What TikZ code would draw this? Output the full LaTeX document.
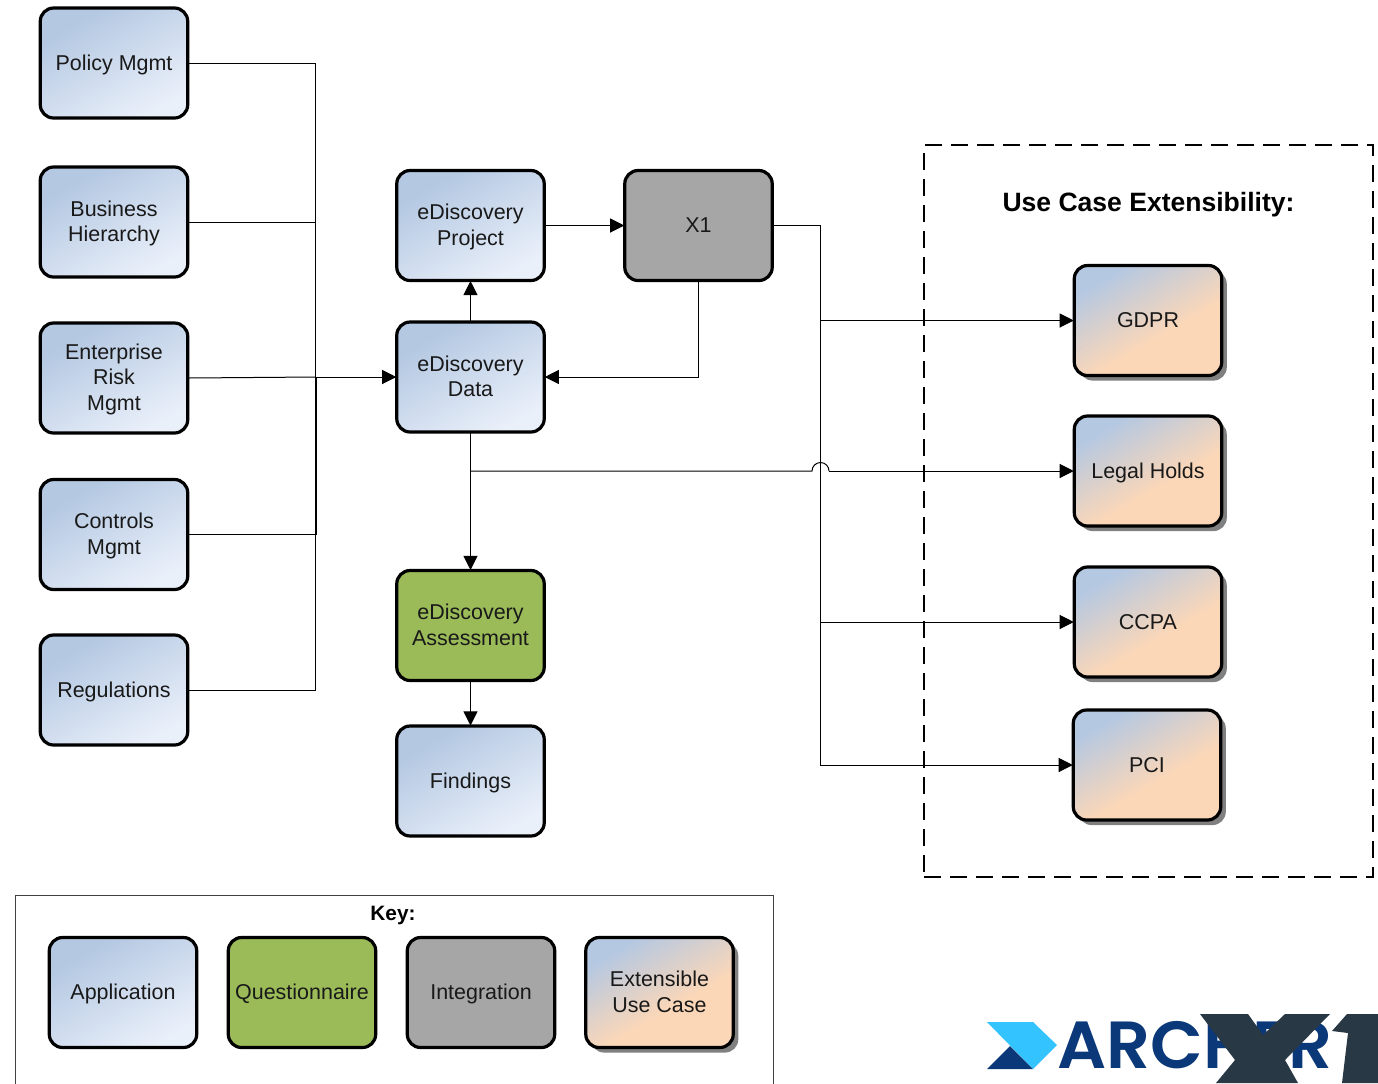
\documentclass[tikz,border=0pt]{standalone}
\usepackage{fontspec}
\setmainfont{Liberation Sans}
\newfontfamily\logofont{Poppins SemiBold}
\usetikzlibrary{arrows.meta,shadows,calc}
\definecolor{bluetl}{HTML}{B4C8E2}
\definecolor{bluebr}{HTML}{EAF0FA}
\definecolor{peach}{HTML}{FBD7B8}
\definecolor{qgreen}{HTML}{9BBB59}
\definecolor{intgray}{HTML}{A6A6A6}
\definecolor{shadowgray}{HTML}{808080}
\definecolor{logolight}{HTML}{33C4FF}
\definecolor{logonavy}{HTML}{0B3879}
\definecolor{logodark}{HTML}{283845}
\pgfdeclareverticalshading{bluegrad}{100bp}{color(0bp)=(bluebr);color(25bp)=(bluebr);color(72bp)=(bluetl);color(100bp)=(bluetl)}
\pgfdeclareverticalshading{peachgrad}{100bp}{color(0bp)=(peach);color(42bp)=(peach);color(74bp)=(bluetl);color(100bp)=(bluetl)}
\newcommand{\lblstrut}{\rule[-4.35pt]{0pt}{19.9pt}}
\newcommand{\lblstrutb}{\rule[-4.35pt]{0pt}{18.9pt}}
\newcommand{\lineup}{\rule{0pt}{14.6pt}}
\tikzset{
  x=0.75pt,y=-0.75pt,
  boxbase/.style={draw=black,line width=2.4pt,rounded corners=10pt,minimum width=110.6pt,minimum height=82.5pt,inner sep=0pt,outer sep=0.4pt,align=center,font=\fontsize{16.1}{19}\selectfont,text=black!90,execute at begin node=\lblstrut,execute at end node=\lblstrutb},
  appbox/.style={boxbase,shading=bluegrad,shading angle=30},
  qbox/.style={boxbase,fill=qgreen},
  intbox/.style={boxbase,fill=intgray},
  extbox/.style={boxbase,shading=peachgrad,shading angle=30,general shadow={shadow xshift=3.8pt,shadow yshift=-3.8pt,fill=shadowgray}},
  conn/.style={draw=black,line width=0.75pt},
  arr/.style={conn,-{Triangle[length=10.5pt,width=10.5pt]}},
}
\begin{document}
\begin{tikzpicture}
\useasboundingbox (0,0) rectangle (1378,1083);
% left column
\node[appbox] (policy) at (114,63) {Policy Mgmt};
\node[appbox] (business) at (114,222) {\lineup Business\\Hierarchy};
\node[appbox] (risk) at (114,378) {\lineup Enterprise\\Risk\\Mgmt};
\node[appbox] (controls) at (114,534.5) {\lineup Controls\\Mgmt};
\node[appbox] (regs) at (114,690) {Regulations};
% middle
\node[appbox] (project) at (470.5,225.5) {\lineup eDiscovery\\Project};
\node[appbox] (data) at (470.5,377) {\lineup eDiscovery\\Data};
\node[qbox] (assess) at (470.5,625.5) {\lineup eDiscovery\\Assessment};
\node[appbox] (findings) at (470.5,781) {Findings};
\node[intbox] (xone) at (698.5,225.5) {X1};
% dashed frame
\node[draw=black,line width=1.2pt,dash pattern=on 13pt off 6.5pt,minimum width=336.75pt,minimum height=549pt,inner sep=0pt,outer sep=0pt] (extframe) at (1148.5,511) {};
\node[font=\bfseries\fontsize{19.9}{24}\selectfont] (exttitle) at (1148.5,205) {Use Case Extensibility:};
% right
\node[extbox] (gdpr) at (1148,320.5) {GDPR};
\node[extbox] (holds) at (1148,471) {Legal Holds};
\node[extbox] (ccpa) at (1148,622) {CCPA};
\node[extbox] (pci) at (1147,765) {PCI};
% connectors
\coordinate (busa) at (315.8,377);
\coordinate (busb) at (316.8,377.6);
\draw[conn] (policy.east |- 0,63) -| (busa);
\draw[conn] (business.east) -- (315.8,222);
\draw[conn] (controls.east) -| (busb);
\draw[conn] (regs.east) -| (busa);
\draw[conn] (risk.east) -- (busa);
\draw[conn] (busb) -- (data.west |- busb);
\draw[arr] (busa) -- (data.west);
\draw[arr] (data.north) -- (project.south);
\draw[arr] (project.east) -- (xone.west);
\draw[arr] (xone.south) |- (data.east);
\coordinate (hop) at (820.3,225.5);
\draw[conn] (xone.east) -- (hop) -- (820.3,765);
\draw[arr] (820.3,320.5) -- (gdpr.west);
\draw[arr] (820.3,622) -- (ccpa.west);
\draw[arr] (820.3,765) -- (pci.west);
\draw[arr] (data.south) -- (assess.north);
\draw[arr] (assess.south) -- (findings.north);
\coordinate (split) at (470.5,471);
\draw[conn] (split) -- (812,471) arc[start angle=180,end angle=360,radius=8.5];
\draw[arr] (829,471) -- (holds.west);
% key
\draw[draw=black!75,line width=0.75pt] (15,1090) -- (15,895) -- (773,895) -- (773,1090);
\node[font=\bfseries\fontsize{15.6}{18}\selectfont] (keytitle) at (393,915) {Key:};
\node[appbox] (k1) at (123,992.5) {Application};
\node[qbox] (k2) at (302,992.5) {Questionnaire};
\node[intbox] (k3) at (481,992.5) {Integration};
\node[extbox] (k4) at (659.5,992.5) {\lineup Extensible\\Use Case};
% logo
\fill[logolight] (987,1022) -- (1033,1022) -- (1057,1045) -- (1033,1069) -- (1010,1045.5) -- cycle;
\fill[logonavy] (987,1069) -- (1010,1046) -- (1033,1069) -- cycle;
\node[anchor=west,inner sep=0pt,text=logonavy,xscale=1.03,font=\logofont\fontsize{50}{60}\selectfont] (logotext) at (1057,1045.5) {ARCHER};
\fill[logodark] (1200,1014) -- (1248,1014) -- (1263,1035) -- (1285,1014) -- (1330,1014) -- (1285,1060) -- (1298,1083) -- (1216,1083) -- (1235,1060) -- cycle;
\fill[logodark] (1347,1014) -- (1378,1014) -- (1378,1083) -- (1342,1083) -- (1348,1033) -- (1332,1031) -- cycle;
\end{tikzpicture}
\end{document}
